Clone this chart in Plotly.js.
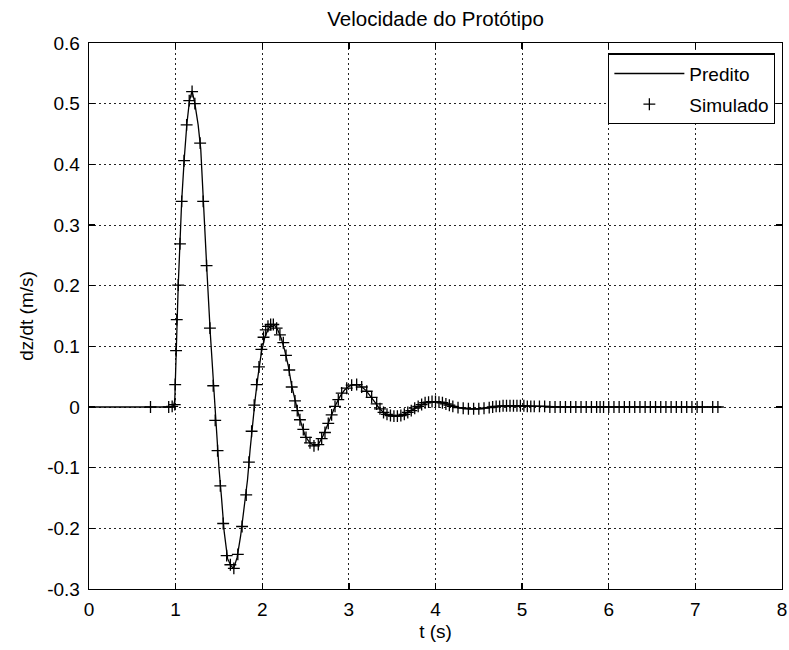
<!DOCTYPE html>
<html>
<head>
<meta charset="utf-8">
<script src="https://cdn.plot.ly/plotly-3.0.1.min.js"></script>
<style>
html,body{margin:0;padding:0;background:#fff;}
#chart{width:789px;height:650px;}
</style>
</head>
<body>
<div id="chart"></div>
<script>
// Predito (solid line)
var preditoT = [0,0.97,0.99,1.00,1.01,1.03,1.05,1.07,1.10,1.13,1.16,1.19,1.22,1.26,1.29,1.32,1.36,1.40,1.44,1.47,1.50,1.53,1.56,1.60,1.64,1.67,1.71,1.75,1.79,1.83,1.86,1.89,1.92,1.95,1.99,2.03,2.07,2.11,2.14,2.18,2.22,2.26,2.30,2.34,2.38,2.42,2.46,2.50,2.55,2.60,2.65,2.70,2.75,2.80,2.85,2.90,2.95,3.00,3.05,3.10,3.15,3.20,3.25,3.30,3.35,3.40,3.45,3.50,3.55,3.60,3.65,3.70,3.75,3.80,3.85,3.90,3.95,4.00,4.05,4.10,4.15,4.20,4.30,4.40,4.50,4.60,4.70,4.80,5.00,5.20,5.50,6.00,7.30];
var preditoV = [0,0,0.01,0.06,0.12,0.20,0.27,0.34,0.41,0.467,0.505,0.521,0.502,0.465,0.425,0.335,0.228,0.122,0.025,-0.045,-0.100,-0.150,-0.205,-0.250,-0.262,-0.266,-0.248,-0.213,-0.167,-0.120,-0.070,-0.022,0.015,0.050,0.090,0.115,0.129,0.136,0.135,0.127,0.113,0.093,0.068,0.035,0.009,-0.013,-0.032,-0.049,-0.059,-0.064,-0.061,-0.048,-0.031,-0.013,0.004,0.018,0.028,0.034,0.037,0.037,0.033,0.027,0.018,0.008,-0.002,-0.009,-0.013,-0.015,-0.015,-0.014,-0.011,-0.007,-0.003,0.001,0.005,0.008,0.009,0.009,0.008,0.006,0.004,0.001,-0.002,-0.003,-0.003,-0.001,0.001,0.002,0.002,0.001,0,0,0];

// Simulado (+ markers)
var simuladoT = [0.71,0.92,0.96,0.99,0.995,1.005,1.013,1.030,1.050,1.070,1.097,1.127,1.157,1.190,1.222,1.283,1.318,1.357,1.396,1.434,1.457,1.484,1.516,1.549,1.589,1.632,1.672,1.718,1.767,1.815,1.846,1.877,1.907,1.935,1.962,1.990,2.015,2.040,2.066,2.097,2.128,2.166,2.204,2.243,2.274,2.312,2.340,2.378,2.404,2.435,2.474,2.505,2.551,2.597,2.647,2.686,2.724,2.762,2.801,2.840,2.878,2.917,2.975,3.032,3.090,3.148,3.206,3.263,3.321,3.359,
  3.40,3.44,3.48,3.52,3.56,3.60,3.64,3.68,3.72,3.76,3.80,3.84,3.88,3.92,3.96,4.00,4.04,4.08,4.12,4.16,4.20,4.26,4.32,4.38,4.44,4.50,4.56,4.62,4.66,4.70,4.74,4.78,4.82,4.86,4.90,4.94,4.98,5.02,5.06,5.10,5.14,5.20,5.26,5.32,5.38,5.44,5.50,5.56,5.62,5.68,5.74,5.80,5.86,5.90,5.94,6.00,6.06,6.12,6.18,6.24,6.30,6.36,6.42,6.48,6.54,6.60,6.66,6.72,6.78,6.84,6.90,6.96,7.02,7.08,7.20,7.26];
var simuladoV = [0,0,0.001,0.004,0.037,0.093,0.144,0.201,0.269,0.339,0.406,0.465,0.505,0.520,0.500,0.435,0.339,0.233,0.130,0.035,-0.022,-0.072,-0.130,-0.192,-0.245,-0.260,-0.266,-0.243,-0.197,-0.145,-0.091,-0.040,0.003,0.037,0.066,0.095,0.115,0.127,0.133,0.136,0.136,0.130,0.119,0.106,0.085,0.061,0.033,0.010,-0.006,-0.021,-0.037,-0.050,-0.059,-0.064,-0.062,-0.052,-0.042,-0.027,-0.013,0.001,0.012,0.023,0.031,0.036,0.037,0.033,0.026,0.016,0.005,-0.003,
  -0.009,-0.012,-0.014,-0.015,-0.015,-0.014,-0.012,-0.009,-0.006,-0.002,0.001,0.004,0.007,0.008,0.009,0.009,0.008,0.007,0.005,0.003,0.001,-0.001,-0.002,-0.003,-0.003,-0.003,-0.002,-0.001,0,0.001,0.001,0.002,0.002,0.002,0.002,0.002,0.002,0.002,0.001,0.001,0.001,0.001,0.001,0,0,0,0,0,0,0,0,0,0,0,0,0,0,0,0,0,0,0,0,0,0,0,0,0,0,0,0,0,0,0,0,0];

var xTickVals = [0,1,2,3,4,5,6,7,8];
var xTickText = ['0','1','2','3','4','5','6','7','8'];
var yTickVals = [-0.3,-0.2,-0.1,0,0.1,0.2,0.3,0.4,0.5,0.6];
var yTickText = ['-0.3','-0.2','-0.1','0','0.1','0.2','0.3','0.4','0.5','0.6'];

var FONT = 'Liberation Sans, Arial, sans-serif';

var traces = [
  {x: preditoT, y: preditoV, type: 'scatter', mode: 'lines', name: 'Predito',
   line: {color: '#000', width: 1.3}, legendgroup: 'a'},
  {x: simuladoT, y: simuladoV, type: 'scatter', mode: 'markers', name: 'Simulado',
   marker: {symbol: 'cross-thin-open', size: 8.5, color: '#000', line: {color: '#000', width: 1.3}}, legendgroup: 'b'}
];

var axisCommon = {
  showline: true, linecolor: '#000', linewidth: 1.3, mirror: 'ticks',
  ticks: 'inside', ticklen: 6, tickcolor: '#000', tickwidth: 1.3,
  showgrid: true, gridcolor: '#222', gridwidth: 1, griddash: '1.5px,3.5px',
  zeroline: false, tickfont: {family: FONT, size: 19, color: '#000'}
};

var layout = {
  width: 789, height: 650,
  margin: {l: 89, r: 7, t: 43, b: 60.5, pad: 0},
  paper_bgcolor: '#fff', plot_bgcolor: '#fff',
  font: {family: FONT, size: 19, color: '#000'},
  title: {text: 'Velocidade do Protótipo', font: {family: FONT, size: 20.5, color: '#000'},
          x: 0.552, xanchor: 'center', y: 0.971, yanchor: 'middle', yref: 'container'},
  xaxis: Object.assign({}, axisCommon, {
    range: [0, 8], tickvals: xTickVals, ticktext: xTickText,
    ticklabelstandoff: 3,
    title: {text: 't (s)', font: {family: FONT, size: 19, color: '#000'}, standoff: 5}
  }),
  yaxis: Object.assign({}, axisCommon, {
    range: [-0.3, 0.6], tickvals: yTickVals, ticktext: yTickText,
    ticklabelstandoff: 4,
    title: {text: 'dz/dt (m/s)', font: {family: FONT, size: 19, color: '#000'}, standoff: 8}
  }),
  showlegend: true,
  legend: {
    x: 0.99, xanchor: 'right', y: 0.981, yanchor: 'top',
    bgcolor: '#fff', bordercolor: '#000', borderwidth: 1.3,
    font: {family: FONT, size: 19, color: '#000'},
    itemwidth: 70, traceorder: 'grouped', tracegroupgap: 3
  }
};

Plotly.newPlot('chart', traces, layout, {displayModeBar: false, staticPlot: true});
</script>
</body>
</html>
